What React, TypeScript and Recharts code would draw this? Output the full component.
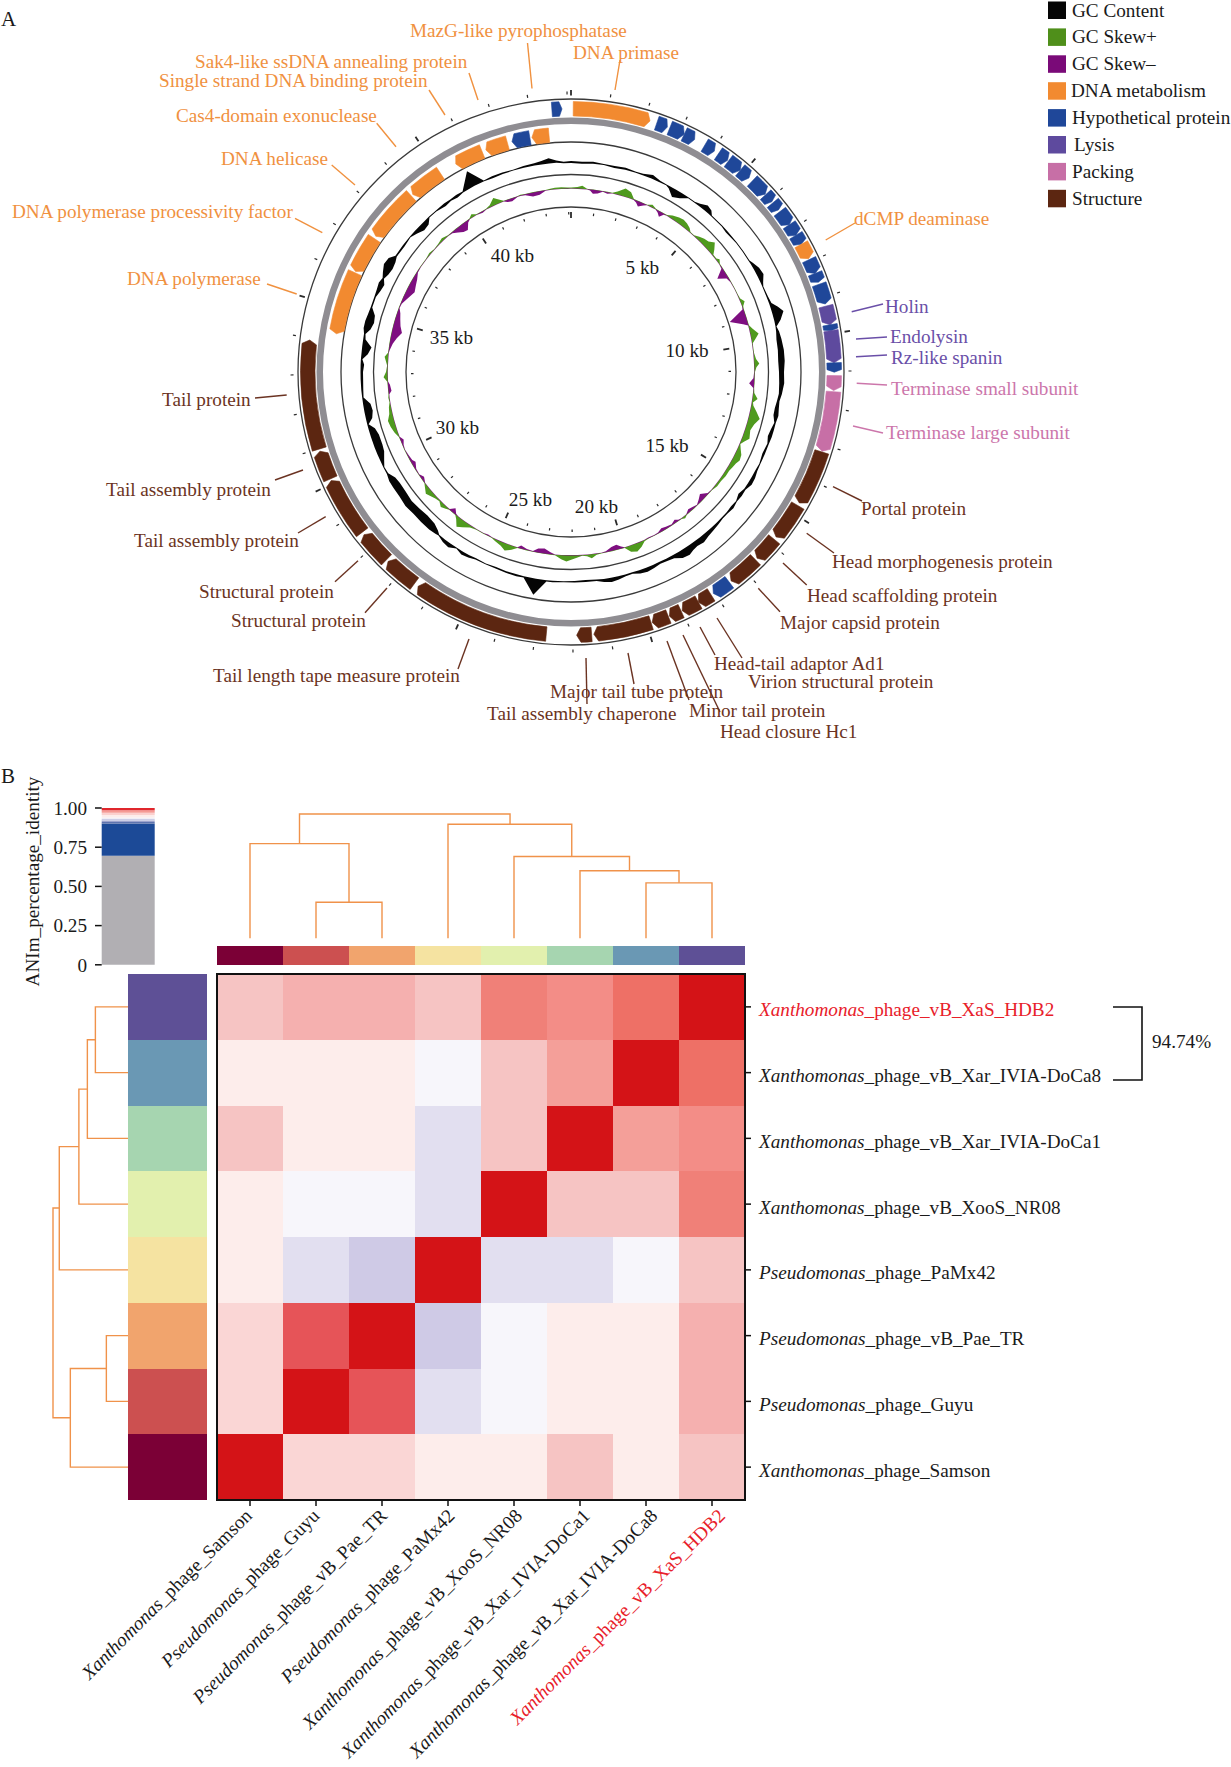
import React from 'react';
import {
  BarChart, Bar, Cell, XAxis, YAxis, ScatterChart, Scatter,
  RadarChart, Radar, PolarAngleAxis, PolarRadiusAxis, PolarGrid,
  PieChart, Pie,
} from 'recharts';

const FONT = '"Liberation Serif", "Times New Roman", serif';
const ORANGE = '#F28A30', BLUE = '#1F4799', LYS = '#5E4A9E', PINK = '#C76FA6', BROWN = '#5C2611';
const T_ORANGE = '#F0913F', T_PURPLE = '#6A4FA8', T_PINK = '#CC76AB', T_BROWN = '#6B3322';
const FS = 19.2;

// ---------- Panel A data ----------
const GENOME_KB = 44.1;
const kbTicks = Array.from({ length: 45 }, (_, i) => i);

const outerStart = [0.06,2.33,2.70,3.12,3.74,4.17,4.50,4.90,5.33,5.84,6.13,6.43,6.86,7.19,7.47,7.93,8.33,8.64,9.25,9.76,9.92,10.78,11.12,11.55,13.19,14.76,15.86,16.60,17.52,18.11,18.50,19.02,19.39,19.88,21.50,22.71,26.52,27.50,28.48,30.14,30.99,43.59];
const outerEnd = [2.14,2.63,3.12,3.43,4.04,4.47,4.90,5.21,5.82,6.09,6.37,6.86,7.19,7.47,7.90,8.33,8.58,9.19,9.76,9.92,10.78,11.03,11.52,13.17,14.68,15.78,16.54,17.46,18.04,18.50,18.99,19.36,19.85,21.44,21.90,26.40,27.44,28.40,30.09,30.93,33.93,43.86];
const outerTone = [ORANGE,BLUE,BLUE,BLUE,BLUE,BLUE,BLUE,BLUE,BLUE,BLUE,BLUE,BLUE,BLUE,BLUE,ORANGE,BLUE,BLUE,BLUE,LYS,BLUE,LYS,BLUE,PINK,PINK,BROWN,BROWN,BROWN,BROWN,BLUE,BROWN,BROWN,BROWN,BROWN,BROWN,BROWN,BROWN,BROWN,BROWN,BROWN,BROWN,BROWN,BLUE];
const innerStart = [34.21,36.14,37.34,38.99,40.55,41.53,42.34,42.94];
const innerEnd = [36.10,37.26,38.93,40.02,41.41,42.20,42.88,43.45];
const innerTone = [ORANGE,ORANGE,ORANGE,ORANGE,ORANGE,ORANGE,BLUE,ORANGE];

// GC content readings: [map angle in degrees, deviation above baseline, deviation below baseline]
const gcReadings = [
[0,1,-1],[3,.5,-1.5],[6,1.5,-.5],[9,.5,-.5],[12,.5,-1.5],[15,1.5,-.5],[18,.5,-.5],[20,1,-.5],[22.6,3.5,-.5],[25,1,-.5],[27,.5,-.5],[28,.5,-2],[30,0,-8],[32,0,-5],[34,.5,-.5],[36,.5,-.5],[37.5,2,0],[39.4,5.5,0],[41,4,0],[42,.5,-.5],[46,.5,-.5],[48,.5,-1.5],[52,.5,-.5],[55,.5,-.5],[58,.5,-.5],[59,2,0],[61,5,0],[63,6,0],[65,2,0],[66,.5,-.5],[69,1,-.5],[71,2,0],[72.5,7,0],[74,11,0],[76,6,0],[77.5,.5,-.5],[79,2,-1],[81,3,-2],[84,4,-2],[87,4,-2.5],[90,3,-2],[93,3.5,-1.5],[96,2,-1],[98,.5,-2],[100,1,-3],[102,2,-3],[104,1,-.5],[106,1,-2],[108,1,-3],[110,.5,-1],[113,.5,-2],[116,.5,-.5],[118,1,-1],[120,2.5,-1],[122,3,-1],[124,.5,-1],[126,1,-3],[128,.5,-.5],[130,2,-1],[132,1,-.5],[134,1,-.5],[136,2,0],[138,3,0],[140,4,0],[142,6,0],[144,5,0],[145.5,6,0],[147,8,0],[149,7,0],[151,3,0],[153,2,0],[155,1.5,-.5],[157,3,0],[159,4,0],[161,3,0],[163,1,-.5],[165,1.5,0],[167,3,0],[169,4,0],[171,2.5,0],[173,.5,-1],[176,.5,-1.5],[179,.5,-1],[182,.5,-.5],[185,1,0],[186.7,1,0],[189.6,16,0],[193,1,0],[195,1.5,-.5],[198,1,-.5],[201,.5,-1],[204,.5,-.5],[207,.5,-1],[209,2,0],[211,3,0],[213,.5,-.5],[215,4,0],[217,3,0],[219,.5,-.5],[220,1,-3],[222,2,-6],[225,2,-7],[228,2,-6],[231,3,-5],[234,2,-6],[237,2,-6],[239,2,-5],[241,.5,-1],[243,.5,-.5],[244.5,0,-3],[247,0,-7],[249,0,-8],[252,0,-8],[254,0,-6],[255.5,0,-1],[257,0,-6],[259,0,-8],[261,0,-7],[263,0,-1],[265,.5,-1.5],[268,.5,-2],[270,.5,-2],[272,.5,-3],[273.5,.5,-1],[275,0,-6],[277,0,-9],[279,0,-2],[280.5,.5,-1],[282,2,-5],[284,2,-7],[286,1,-6],[288,.5,-1],[291,.5,-1],[293,1,-3],[295,2,-4],[296.5,.5,-1],[298,3,-3],[300,6,-4],[302,5,-3],[303.5,.5,-1],[307,.5,-1.5],[310,.5,-.5],[312,.5,-3],[314,0,-6],[316,0,-5],[317.5,.5,-.5],[320,.5,-.5],[323,1,-2],[325,.5,-1],[327,1,-2],[329,.5,-.5],[332.6,16,0],[335.5,.5,-.5],[338,1,-1],[341,1,-.5],[344,.5,-.5],[347,1.5,-.5],[350,2,0],[352,3,0],[354,5,0],[356,2,0],[358,.5,-1],
];
// GC skew readings: [map angle in degrees, signed deviation from baseline]
const skewReadings = [
[0,1],[2,1.5],[3.5,3],[5,.5],[6,-1],[7,-4],[8.5,-3],[10,-.5],[11.5,-1.5],[13,.5],[14.5,3],[16.6,8],[18.5,6],[20,.5],[21,-2],[22,-5],[23.5,-2],[24.5,0],[26,2.5],[27.5,.5],[28.5,-2],[29.5,-5],[30.5,-1],[31.5,.5],[33,3],[35,5],[36.5,6],[38,5],[39.5,3],[40.5,.5],[42,.5],[43.5,3],[45,5],[46.5,6],[48,10],[49.5,5],[50.5,1],[52,1],[52.8,3],[54,.5],[55.5,-1],[57.5,-10],[59,-2],[60.5,-.5],[63,.5],[65,.5],[66.5,1],[67.8,4],[69,1],[70,-1],[72.5,-17],[74.5,-5],[75.3,.5],[76.5,3],[78.4,8],[79.8,4],[81,.5],[84,.5],[86,2],[87.4,5],[88.5,2],[90,.5],[92,-1],[93.6,-5],[95,-.5],[96.5,1],[98.2,5],[99.5,1],[100.5,2],[102,6],[104,11],[106,7],[108,5],[110.5,7],[112,3],[113,.5],[114.5,3],[116,6],[117.7,7],[119,5],[120.5,4],[122,3],[124,3],[126,2],[128,2],[130,.5],[131.5,-1],[133.4,-6],[135,-3],[136.5,-.5],[138,-2],[139.5,-3],[141,.5],[142,2],[143,.5],[144,-1],[145,-3],[146.5,-1],[148.5,-2],[150,-3],[151.5,-1],[153,-.5],[155,-1],[156.5,1],[158,5],[159.7,8],[161.5,6],[163,.5],[164,-2],[165.3,-5],[167,-4],[169,-1],[170.5,.5],[172,1],[173.6,4],[175,1.5],[176.5,.5],[178,2],[181.4,6],[183,4],[185,.5],[186.5,-2],[188.5,-5],[190.5,-4],[192,-.5],[194,-1],[196,-3],[197,.5],[198.5,4],[200.4,7],[202,4],[204,2],[205.5,.5],[207,-1],[208.5,.5],[211,.5],[213,2],[215,6],[216.5,9],[218,3],[219,-1],[220.3,-5],[221.5,-.5],[222.5,2],[224,4],[225.5,1],[227,2],[230,6],[231.5,3],[232.8,.5],[234.5,-3],[236,-.5],[238,-1],[240,-4],[241,-2],[243,-1],[245,.5],[246.5,-1],[248,-3],[249.3,.5],[251,3],[253,5],[255,6],[257,3],[259,2],[260.5,.5],[262,1],[263,-.5],[264,-3],[266,-2],[267,.5],[268.4,4],[270,1.5],[272,.5],[274.7,3.5],[276,.5],[277,-1],[279,-3],[281,-6],[283,-10],[285,-7],[287,-5],[289,-3],[290.5,-.5],[292,-1],[294,-4],[297,-8],[299,-6],[301,-4],[303,-1],[305,.5],[308,.5],[310,1.5],[312,.5],[314,1],[316,2.5],[318,.5],[319.5,-1],[321,-4],[322.5,-7],[324,-8],[325.5,-2],[326.5,.5],[327.7,3],[329,.5],[331,-1.5],[332.5,.5],[334,2],[335.9,7],[337.5,3],[338.5,.5],[339.5,-2],[341,-3],[343,-.5],[344,1],[345.5,-1],[347.8,-4],[350,-3.5],[352,-.5],[353.5,1],[355,1.5],[357,1.5],[359,1],
];
const GC_BASE = 210, SKEW_BASE = 183.5, HAIR = 0.35;
const KB_PER_DEG = GENOME_KB / 360;

const gcTable = gcReadings.map(([deg, hi, lo]) => ({
  kb: deg * KB_PER_DEG,
  gcTop: GC_BASE + Math.max(hi, HAIR),
  gcBottom: GC_BASE + Math.min(lo, -HAIR),
}));
const skewTable = skewReadings.map(([deg, v]) => ({
  kb: deg * KB_PER_DEG,
  skewPlus: SKEW_BASE + Math.max(v, HAIR),
  skewMid: SKEW_BASE,
  skewMinus: SKEW_BASE + Math.min(v, -HAIR),
}));

const makeGenes = (start: number[], end: number[], tone: string[], dir: string) => {
  const out: any[] = [];
  let cur = 0;
  start.forEach((s, i) => {
    if (s > cur) out.push({ len: s - cur, tone: null, dir });
    out.push({ len: end[i] - s, tone: tone[i], dir });
    cur = end[i];
  });
  if (cur < GENOME_KB) out.push({ len: GENOME_KB - cur, tone: null, dir });
  return out;
};
const outerGenes = makeGenes(outerStart, outerEnd, outerTone, 'cw');
const innerGenes = makeGenes(innerStart, innerEnd, innerTone, 'ccw');

// page placement of panel A
const CX = 571.3, CY = 371.5, HALF = 300;
const SIDE = HALF * 2;

const RAD = Math.PI / 180;
const pol = (cx: number, cy: number, r: number, a: number) => [cx + r * Math.cos(-a * RAD), cy + r * Math.sin(-a * RAD)];

function GeneShape(p: any) {
  const d = p.payload ?? p;
  const tone = d.tone ?? p.tone;
  if (!tone) return <g />;
  const { cx, cy, innerRadius: ri, outerRadius: ro, startAngle: s, endAngle: e } = p;
  const rm = (ri + ro) / 2;
  const head = Math.min(0.9, (s - e) * 0.28);
  const P = (r: number, a: number) => pol(cx, cy, r, a).map((v) => v.toFixed(2)).join(' ');
  const dir = d.dir ?? p.dir;
  const path = dir === 'cw'
    ? `M${P(ro, s)} A${ro} ${ro} 0 0 1 ${P(ro, e + head)} L${P(rm, e)} L${P(ri, e + head)} A${ri} ${ri} 0 0 0 ${P(ri, s)} Z`
    : `M${P(rm, s)} L${P(ro, s - head)} A${ro} ${ro} 0 0 1 ${P(ro, e)} L${P(ri, e)} A${ri} ${ri} 0 0 0 ${P(ri, s - head)} Z`;
  return <path d={path} fill={tone} stroke={tone} strokeWidth={0.6} />;
}

const kbLabelXY: Record<number, number[]> = {
  5: [642.7, 273], 10: [687.3, 356], 15: [667.3, 451], 20: [596.7, 512],
  25: [530.7, 505], 30: [457.7, 433.5], 35: [451.7, 343.5], 40: [512.7, 261.5],
};

function tickRenderer(minorIn: number, majorIn: number, minorOut: number, majorOut: number, withLabels: boolean) {
  return (p: any) => {
    const kb = p.payload.value;
    const a = p.payload.coordinate;
    const major = kb % 5 === 0;
    const [x1, y1] = pol(HALF, HALF, major ? majorIn : minorIn, a);
    const [x2, y2] = pol(HALF, HALF, major ? majorOut : minorOut, a);
    const lab = withLabels ? kbLabelXY[kb] : null;
    return (
      <g>
        <line x1={x1} y1={y1} x2={x2} y2={y2} stroke="#2a2a2a" strokeWidth={major ? 1.8 : 1.2} />
        {lab && (
          <text x={lab[0] - (CX - HALF)} y={lab[1] - (CY - HALF)} textAnchor="middle" fontFamily={FONT} fontSize={FS} fill="#1a1a1a">
            {kb} kb
          </text>
        )}
      </g>
    );
  };
}

// ---------- Panel A labels ----------
const labelText = ['MazG-like pyrophosphatase','DNA primase','Sak4-like ssDNA annealing protein','Single strand DNA binding protein','Cas4-domain exonuclease','DNA helicase','DNA polymerase processivity factor','DNA polymerase','dCMP deaminase','Holin','Endolysin','Rz-like spanin','Terminase small subunit','Terminase large subunit','Portal protein','Head morphogenesis protein','Head scaffolding protein','Major capsid protein','Head-tail adaptor Ad1','Virion structural protein','Major tail tube protein','Tail assembly chaperone','Minor tail protein','Head closure Hc1','Tail length tape measure protein','Structural protein','Structural protein','Tail assembly protein','Tail assembly protein','Tail protein'];
const labelX = [410,573,195,159,176,221,12,127,854,885,890,891,891,886,861,832,807,780,714,748,550,487,689,720,213,231,199,134,106,162];
const labelY = [31,53,62,81,116,159,212,279,219,307,336.5,357.5,388.6,433.4,509.4,562,596,623,664,682,692,714,711,732,676,621,592,541,490,399.5];
const labelTone = [...Array(9).fill(T_ORANGE), ...Array(3).fill(T_PURPLE), ...Array(2).fill(T_PINK), ...Array(16).fill(T_BROWN)];
const leaderLines = [
  [527.5,43,532,88.5],[620,60,615,90],[469,73,478,100],[429,90,445,115],[376.7,123.3,396,146.7],[331.7,165,355,185],[295,218.3,322.3,232.7],[267,284,296.7,294],
  [855,223,825.7,240],[883,304,851.7,311.7],[887,337,856,339],[887,355,856,356.7],[887,385,856.7,383.3],[883,433,853,426],
  [862,501,833,486.7],[834,553,806.7,533.3],[806.7,585,783,563],[780,611.7,758.3,588.3],[742,658,717,618],[715,655,700,627],[634,684,628,653],[587,704,586,658],[689,700,667,641],[720,712,683,635],
  [458,669,469,639],[365,612.7,387,588],[335,581.7,358,560.7],[298,533,325.7,516.7],[275,480,303,470],[255,398,286.7,395],
];
const legendNames = ['GC Content','GC Skew+','GC Skew\u2013','DNA metabolism','Hypothetical protein','Lysis','Packing','Structure'];
const legendTones = ['#050505','#4F8F1A','#7A0A78',ORANGE,BLUE,LYS,PINK,BROWN];
const legendX = [1072,1072,1072,1071,1072,1074,1072,1072];

// ---------- Panel B data ----------
const phages = ['Xanthomonas_phage_Samson','Pseudomonas_phage_Guyu','Pseudomonas_phage_vB_Pae_TR','Pseudomonas_phage_PaMx42','Xanthomonas_phage_vB_XooS_NR08','Xanthomonas_phage_vB_Xar_IVIA-DoCa1','Xanthomonas_phage_vB_Xar_IVIA-DoCa8','Xanthomonas_phage_vB_XaS_HDB2'];
const rowLabels = [...phages].reverse();
const identityRows = [
  [0.80,0.82,0.82,0.80,0.88,0.86,0.90,1.00],
  [0.76,0.76,0.76,0.74,0.80,0.84,1.00,0.90],
  [0.80,0.76,0.76,0.72,0.80,1.00,0.84,0.86],
  [0.76,0.74,0.74,0.72,1.00,0.80,0.80,0.88],
  [0.76,0.72,0.70,1.00,0.72,0.72,0.74,0.80],
  [0.78,0.92,1.00,0.70,0.74,0.76,0.76,0.82],
  [0.78,1.00,0.92,0.72,0.74,0.76,0.76,0.82],
  [1.00,0.78,0.78,0.76,0.76,0.80,0.76,0.80],
];
const identityLevels = [0.70,0.72,0.74,0.76,0.78,0.80,0.82,0.84,0.86,0.88,0.90,0.92,1.00];
const identityTones = ['#CFCAE6','#E2DFF0','#F7F6FB','#FDEDEB','#FAD6D5','#F6C4C3','#F5B0AF','#F49F99','#F38D87','#F08078','#EE7066','#E65458','#D41317'];
const toneOf = (v: number) => identityTones[identityLevels.indexOf(v)];
const stripTones = ['#7B0036','#CC5050','#F1A46D','#F5E3A1','#E2F0AE','#A6D5B0','#6A98B4','#5E5096'];
const heatTable = phages.map((name) => {
  const row: any = { name };
  identityRows.forEach((_, r) => { row['r' + r] = 1; });
  return row;
});
const rowKeys = identityRows.map((_, r) => 'r' + r);
const rowTicks = [0.5,1.5,2.5,3.5,4.5,5.5,6.5,7.5];
const topStripTable = phages.map((name) => ({ name, strip: 1 }));
const leftStripTable = rowLabels.map((name) => ({ name, strip: 1 }));
const leftStripTones = [...stripTones].reverse();

const hist = [0.695,0.205,0.01,0.01,0.01,0.01,0.015,0.015,0.015,0.015];
const histTones = ['#B1AFB3','#1C4A97','#5E74AE','#9DA4CD','#CCCDE6','#F0EFF7','#FDEDEB','#FBD0CE','#F59A94','#E0262C'];
const histTable = [hist.reduce((o: any, v, i) => { o['s' + i] = v; return o; }, { name: 'hist' })];
const histTicks = [0,0.25,0.5,0.75,1];

// dendrogram links: [position a, height a, position b, height b, link height]
const topLinks = [
  [1.5,0,2.5,0,0.29],[0.5,0,2,0.29,0.762],[6.5,0,7.5,0,0.446],[5.5,0,7,0.446,0.544],
  [4.5,0,6.25,0.544,0.658],[3.5,0,5.375,0.658,0.917],[1.25,0.762,4.44,0.917,1],
];
const leftLinks = [
  [0.5,0,1.5,0,0.44],[1,0.44,2.5,0,0.546],[1.75,0.546,3.5,0,0.658],[2.625,0.658,4.5,0,0.917],
  [5.5,0,6.5,0,0.295],[6,0.295,7.5,0,0.771],[3.56,0.917,6.75,0.771,1],
];
const DENDRO = '#F0924A';

function PhageName({ name, ...rest }: any) {
  const i = name.indexOf('_');
  const red = name.includes('HDB2');
  return (
    <text fontFamily={FONT} fontSize={FS} fill={red ? '#E8202A' : '#1a1a1a'} {...rest}>
      <tspan fontStyle="italic">{name.slice(0, i)}</tspan>
      <tspan>{name.slice(i)}</tspan>
    </text>
  );
}
const RowTick = (p: any) => <PhageName name={rowLabels[p.index]} x={p.x + 6} y={p.y + 9.5} />;
const ColTick = (p: any) => {
  const x = p.x + 3 + p.index * 1.6, y = p.y + 9;
  return <PhageName name={p.payload.value} x={x} y={y} textAnchor="end" transform={`rotate(-45 ${x} ${y})`} />;
};

const abs = (left: number, top: number): React.CSSProperties => ({ position: 'absolute', left, top });
const noDot = () => <g />;
const ZERO = { top: 0, right: 0, bottom: 0, left: 0 };

export default function App() {
  return (
    <div style={{ position: 'absolute', left: 0, top: 0, width: 1231, height: 1767, background: '#fff', overflow: 'hidden' }}>
      {/* GC content */}
      <div style={abs(CX - HALF, CY - HALF)}>
        <RadarChart width={SIDE} height={SIDE} data={gcTable} cx={HALF} cy={HALF} outerRadius={230} margin={ZERO}>
          <PolarAngleAxis dataKey="kb" type="number" domain={[0, GENOME_KB]} tick={false} tickLine={false} axisLine={false} />
          <PolarRadiusAxis domain={[0, 230]} tick={false} axisLine={false} />
          <Radar dataKey="gcTop" fill="#050505" fillOpacity={1} stroke="none" dot={false} isAnimationActive={false} />
          <Radar dataKey="gcBottom" fill="#ffffff" fillOpacity={1} stroke="none" dot={false} isAnimationActive={false} />
        </RadarChart>
      </div>
      {/* GC skew */}
      <div style={abs(CX - HALF, CY - HALF)}>
        <RadarChart width={SIDE} height={SIDE} data={skewTable} cx={HALF} cy={HALF} outerRadius={230} margin={ZERO}>
          <PolarAngleAxis dataKey="kb" type="number" domain={[0, GENOME_KB]} tick={false} tickLine={false} axisLine={false} />
          <PolarRadiusAxis domain={[0, 230]} tick={false} axisLine={false} />
          <Radar dataKey="skewPlus" fill="#4F9A1E" fillOpacity={1} stroke="none" dot={false} isAnimationActive={false} />
          <Radar dataKey="skewMid" fill="#7E0F80" fillOpacity={1} stroke="none" dot={false} isAnimationActive={false} />
          <Radar dataKey="skewMinus" fill="#ffffff" fillOpacity={1} stroke="none" dot={false} isAnimationActive={false} />
        </RadarChart>
      </div>
      {/* rings + outer ticks */}
      <div style={abs(CX - HALF, CY - HALF)}>
        <RadarChart width={SIDE} height={SIDE} data={kbTicks.map((kb) => ({ kb, v: 1 }))} cx={HALF} cy={HALF} outerRadius={273} margin={ZERO}>
          <PolarGrid gridType="circle" radialLines={false} polarRadius={[165, 197.5, 230, 273]} stroke="#3a3a3a" strokeWidth={1.3} />
          <PolarAngleAxis dataKey="kb" type="number" domain={[0, GENOME_KB]} ticks={kbTicks as any} tick={tickRenderer(277.5, 276.5, 280.5, 282, false)} tickLine={false} axisLine={false} />
        </RadarChart>
      </div>
      {/* inner ticks */}
      <div style={abs(CX - HALF, CY - HALF)}>
        <RadarChart width={SIDE} height={SIDE} data={kbTicks.map((kb) => ({ kb, v: 1 }))} cx={HALF} cy={HALF} outerRadius={160} margin={ZERO}>
          <PolarAngleAxis dataKey="kb" type="number" domain={[0, GENOME_KB]} ticks={kbTicks as any} tick={tickRenderer(157.5, 154, 160, 160, true)} tickLine={false} axisLine={false} />
        </RadarChart>
      </div>
      {/* genes */}
      <div style={abs(CX - HALF, CY - HALF)}>
        <PieChart width={SIDE} height={SIDE} margin={ZERO}>
          <Pie data={[{ ring: 1 }]} dataKey="ring" cx={HALF} cy={HALF} innerRadius={248} outerRadius={254.5} startAngle={90} endAngle={-270} fill="#8F8D92" stroke="none" isAnimationActive={false} />
          <Pie data={outerGenes} dataKey="len" cx={HALF} cy={HALF} innerRadius={256} outerRadius={270.5} startAngle={90} endAngle={-270} stroke="none" shape={GeneShape} isAnimationActive={false} />
          <Pie data={innerGenes} dataKey="len" cx={HALF} cy={HALF} innerRadius={230.5} outerRadius={245} startAngle={90} endAngle={-270} stroke="none" shape={GeneShape} isAnimationActive={false} />
        </PieChart>
      </div>

      {/* Panel B: histogram key */}
      <div style={abs(0, 790)}>
        <BarChart width={160} height={190} data={histTable} barCategoryGap={0} margin={{ top: 18, right: 5.7, bottom: 15.2, left: 0 }}>
          <XAxis dataKey="name" hide />
          <YAxis type="number" domain={[0, 1]} ticks={histTicks} width={101.7} axisLine={false} tickLine={{ stroke: '#111', strokeWidth: 1.5 }} tickSize={6.7} tickMargin={8}
            tickFormatter={(v: number) => (v === 0 ? '0' : v.toFixed(2))} tick={{ fontFamily: FONT, fontSize: FS, fill: '#1a1a1a' }} interval={0} />
          {hist.map((_, i) => (
            <Bar key={i} dataKey={'s' + i} stackId="h" fill={histTones[i]} stroke="none" isAnimationActive={false} />
          ))}
        </BarChart>
      </div>
      {/* Panel B: top dendrogram */}
      <div style={abs(217, 812)}>
        <ScatterChart width={528} height={129} margin={{ top: 2, right: 0, bottom: 2.7, left: 0 }}>
          <XAxis type="number" dataKey="x" domain={[0, 8]} hide />
          <YAxis type="number" dataKey="y" domain={[0, 1]} hide />
          {topLinks.map((l, i) => (
            <Scatter key={i} data={[{ x: l[0], y: l[1] }, { x: l[0], y: l[4] }, { x: l[2], y: l[4] }, { x: l[2], y: l[3] }]} line={{ stroke: DENDRO, strokeWidth: 1.4 }} shape={noDot} isAnimationActive={false} />
          ))}
        </ScatterChart>
      </div>
      {/* Panel B: left dendrogram */}
      <div style={abs(50.6, 974)}>
        <ScatterChart width={77.7} height={526} margin={{ top: 0, right: 0, bottom: 0, left: 2 }}>
          <XAxis type="number" dataKey="x" domain={[0, 1]} reversed hide />
          <YAxis type="number" dataKey="y" domain={[0, 8]} reversed hide />
          {leftLinks.map((l, i) => (
            <Scatter key={i} data={[{ y: l[0], x: l[1] }, { y: l[0], x: l[4] }, { y: l[2], x: l[4] }, { y: l[2], x: l[3] }]} line={{ stroke: DENDRO, strokeWidth: 1.4 }} shape={noDot} isAnimationActive={false} />
          ))}
        </ScatterChart>
      </div>
      {/* Panel B: strips */}
      <div style={abs(217, 945.7)}>
        <BarChart width={528} height={19.6} data={topStripTable} barCategoryGap={0} margin={ZERO}>
          <XAxis dataKey="name" hide />
          <YAxis type="number" domain={[0, 1]} hide />
          <Bar dataKey="strip" isAnimationActive={false} shapeRendering="crispEdges">
            {stripTones.map((c, i) => <Cell key={i} fill={c} />)}
          </Bar>
        </BarChart>
      </div>
      <div style={abs(128.3, 974)}>
        <BarChart layout="vertical" width={79} height={526} data={leftStripTable} barCategoryGap={0} margin={ZERO}>
          <XAxis type="number" domain={[0, 1]} hide />
          <YAxis type="category" dataKey="name" hide />
          <Bar dataKey="strip" isAnimationActive={false} shapeRendering="crispEdges">
            {leftStripTones.map((c, i) => <Cell key={i} fill={c} />)}
          </Bar>
        </BarChart>
      </div>
      {/* Panel B: heat map */}
      <div style={abs(0, 960)}>
        <BarChart width={1231} height={807} data={heatTable} barCategoryGap={0} margin={{ top: 14, right: 0, bottom: 0, left: 217 }}>
          <XAxis dataKey="name" height={267} tickLine={{ stroke: '#111', strokeWidth: 1.5 }} tickSize={6} axisLine={false} tick={ColTick} interval={0} />
          <YAxis type="number" orientation="right" domain={[0, 8]} reversed ticks={rowTicks} width={486} tickLine={{ stroke: '#111', strokeWidth: 1.5 }} tickSize={6} axisLine={false} tick={RowTick} interval={0} />
          {rowKeys.map((k, r) => (
            <Bar key={k} dataKey={k} stackId="heat" isAnimationActive={false} shapeRendering="crispEdges">
              {identityRows[r].map((v, c) => <Cell key={c} fill={toneOf(v)} />)}
            </Bar>
          ))}
        </BarChart>
      </div>

      {/* Annotations */}
      <svg width={1231} height={1767} style={{ ...abs(0, 0), pointerEvents: 'none' }} fontFamily={FONT}>
        {leaderLines.map((l, i) => (
          <line key={i} x1={l[0]} y1={l[1]} x2={l[2]} y2={l[3]} stroke={labelTone[i]} strokeWidth={1.4} />
        ))}
        {labelText.map((t, i) => (
          <text key={i} x={labelX[i]} y={labelY[i] + 6} fontSize={FS} fill={labelTone[i]}>{t}</text>
        ))}
        {legendNames.map((t, i) => (
          <g key={i}>
            <rect x={1048} y={1.5 + i * 26.9} width={18} height={17.5} fill={legendTones[i]} />
            <text x={legendX[i]} y={16.5 + i * 26.9} fontSize={FS} fill="#1a1a1a">{t}</text>
          </g>
        ))}
        <text x={1} y={26} fontSize={21} fill="#1a1a1a">A</text>
        <text x={1} y={783} fontSize={21} fill="#1a1a1a">B</text>
        <text transform="translate(39 881.5) rotate(-90)" textAnchor="middle" fontSize={FS} fill="#1a1a1a">ANIm_percentage_identity</text>
        <rect x={217} y={974} width={528} height={526} fill="none" stroke="#111" strokeWidth={2} />
        <polyline points="1113,1007 1142,1007 1142,1080 1113,1080" fill="none" stroke="#111" strokeWidth={1.6} />
        <text x={1152} y={1048} fontSize={FS} fill="#1a1a1a">94.74%</text>
      </svg>
    </div>
  );
}
